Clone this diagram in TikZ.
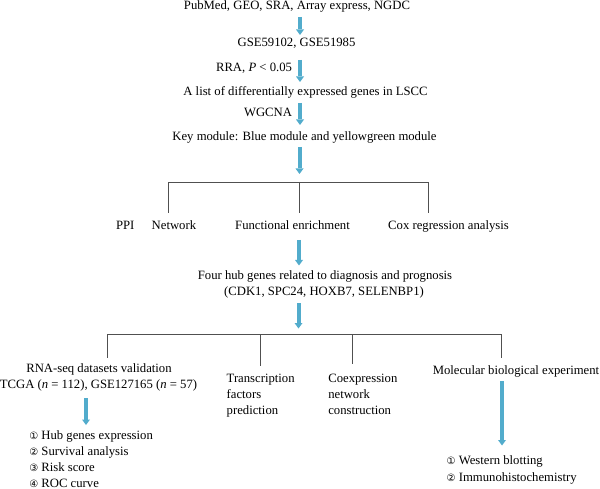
\documentclass[tikz,border=0pt]{standalone}
\usepackage{fontspec}
\setmainfont{Liberation Serif}
\newfontfamily\circfont{DejaVu Sans}
\usetikzlibrary{arrows.meta}
\definecolor{arrowblue}{RGB}{82,172,204}
\definecolor{linegray}{RGB}{80,80,80}
\newcommand{\circnum}[1]{{\circfont\fontsize{10}{12}\selectfont #1}}
\begin{document}
\begin{tikzpicture}[x=1pt,y=-1pt,
  txt/.style={inner sep=0pt, outer sep=0pt, font=\fontsize{12.7}{16}\selectfont, anchor=base},
  txtl/.style={txt, anchor=base west},
  txtr/.style={txt, anchor=base east},
  flow/.style={draw=arrowblue, line width=4pt, -{Triangle[width=8pt,length=5.5pt,line width=0pt]}},
  tree/.style={draw=linegray, line width=0.9pt}]
\useasboundingbox (0,0) rectangle (600,489);

% main column texts
\node[txt] (src) at (297,10) {PubMed, GEO, SRA, Array express, NGDC};
\node[txt] (gse) at (296.5,47) {GSE59102, GSE51985};
\node[txtr] (rra) at (292,71.5) {RRA, \textit{P} < 0.05};
\node[txt] (deg) at (305.5,96) {A list of differentially expressed genes in LSCC};
\node[txtr] (wgcna) at (292,117) {WGCNA};
\node[txt] (key) at (304.5,141) {Key module: Blue module and yellowgreen module};

\node[txtl] (ppi) at (116,230) {PPI};
\node[txtl] (net) at (151.7,230) {Network};
\node[txt] (func) at (292.5,230) {Functional enrichment};
\node[txt] (cox) at (448.5,230) {Cox regression analysis};

\node[txt] (hub) at (325,279.5) {Four hub genes related to diagnosis and prognosis};
\node[txt] (hubg) at (324,295) {(CDK1, SPC24, HOXB7, SELENBP1)};

\node[txt] (rna) at (99,372) {RNA-seq datasets validation};
\node[txt] (tcga) at (98.5,388) {TCGA (\textit{n} = 112), GSE127165 (\textit{n} = 57)};
\node[txtl] (tf1) at (226.7,382) {Transcription};
\node[txtl] (tf2) at (226.7,398) {factors};
\node[txtl] (tf3) at (226.7,414) {prediction};
\node[txtl] (co1) at (328.3,382) {Coexpression};
\node[txtl] (co2) at (328.3,398) {network};
\node[txtl] (co3) at (328.3,414) {construction};
\node[txt] (mol) at (516,374.5) {Molecular biological experiment};

\node[txtl] (l1) at (29.3,439.5) {\circnum{①} Hub genes expression};
\node[txtl] (l2) at (29.3,455.5) {\circnum{②} Survival analysis};
\node[txtl] (l3) at (29.3,471.5) {\circnum{③} Risk score};
\node[txtl] (l4) at (29.3,487.3) {\circnum{④} ROC curve};
\node[txtl] (m1) at (446.7,464.5) {\circnum{①} Western blotting};
\node[txtl] (m2) at (446.7,481.5) {\circnum{②} Immunohistochemistry};

% arrow end points
\coordinate (a1s) at (300,17);   \coordinate (a1e) at (300,35);
\coordinate (a2s) at (300,60);   \coordinate (a2e) at (300,82);
\coordinate (a3s) at (300,103);  \coordinate (a3e) at (300,125);
\coordinate (a4s) at (299.5,147);\coordinate (a4e) at (299.5,174);
\coordinate (a5s) at (299,240);  \coordinate (a5e) at (299,265.5);
\coordinate (a6s) at (298.5,303);\coordinate (a6e) at (298.5,328.5);
\coordinate (a7s) at (86,398);   \coordinate (a7e) at (86,425);
\coordinate (a8s) at (502,381);  \coordinate (a8e) at (502,445.5);

\draw[flow] (a1s) -- (a1e);
\draw[flow] (a2s) -- (a2e);
\draw[flow] (a3s) -- (a3e);
\draw[flow] (a4s) -- (a4e);
\draw[flow] (a5s) -- (a5e);
\draw[flow] (a6s) -- (a6e);
\draw[flow] (a7s) -- (a7e);
\draw[flow] (a8s) -- (a8e);

% first bracket
\coordinate (t1l) at (168,182); \coordinate (t1m) at (299,182); \coordinate (t1r) at (428,182);
\coordinate (t1lb) at (168,213); \coordinate (t1mb) at (299,213); \coordinate (t1rb) at (428,213);
\draw[tree] (t1lb) -- (t1l) -- (t1r) -- (t1rb);
\draw[tree] (t1m) -- (t1mb);

% second bracket
\coordinate (t2a) at (107,334); \coordinate (t2b) at (260,334);
\coordinate (t2c) at (352.7,334); \coordinate (t2d) at (501,334);
\coordinate (t2ab) at (107,357.7); \coordinate (t2bb) at (260,365.7);
\coordinate (t2cb) at (352.7,364.3); \coordinate (t2db) at (501,358.3);
\draw[tree] (t2ab) -- (t2a) -- (t2d) -- (t2db);
\draw[tree] (t2b) -- (t2bb);
\draw[tree] (t2c) -- (t2cb);
\end{tikzpicture}
\end{document}
